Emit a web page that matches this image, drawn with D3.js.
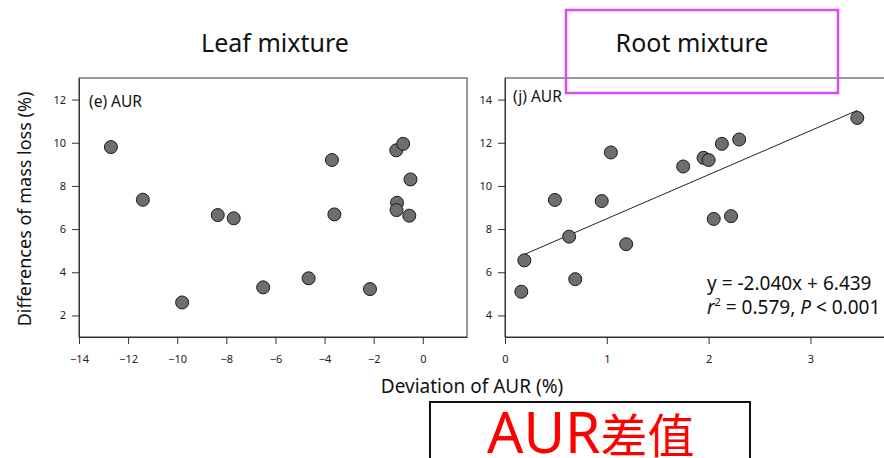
<!DOCTYPE html>
<html><head><meta charset="utf-8">
<script src="https://cdn.jsdelivr.net/npm/d3@7"></script>
<style>body{margin:0;background:#fff}svg{display:block}</style>
</head><body>
<svg id="c" width="884" height="458"></svg>
<script>
// Leaf mixture (e) AUR
const leafX = [-12.7, -11.4, -9.8, -8.35, -7.7, -6.5, -4.65, -3.7, -3.6, -2.15, -1.08, -0.8, -0.5, -1.05, -1.07, -0.55];
const leafY = [9.8, 7.36, 2.6, 6.65, 6.5, 3.3, 3.72, 9.2, 6.68, 3.22, 9.65, 9.95, 8.3, 7.22, 6.88, 6.62];
// Root mixture (j) AUR
const rootX = [0.16, 0.19, 0.49, 0.63, 0.69, 0.95, 1.04, 1.19, 1.75, 1.95, 2.0, 2.05, 2.22, 2.13, 2.3, 3.46];
const rootY = [5.1, 6.55, 9.35, 7.65, 5.68, 9.3, 11.55, 7.3, 10.9, 11.3, 11.2, 8.47, 8.6, 11.95, 12.15, 13.15];
const fitCoef = [2.040, 6.439];      // slope, intercept
const fitRange = [0.18, 3.46];
const leafXTicks = [-14, -12, -10, -8, -6, -4, -2, 0];
const leafYTicks = [2, 4, 6, 8, 10, 12];
const rootXTicks = [0, 1, 2, 3];
const rootYTicks = [4, 6, 8, 10, 12, 14];

const svg = d3.select("#c");
const FONT = "'Noto Sans', 'Open Sans', sans-serif";
const axisCol = "#333";

function panel(o) {
  const g = svg.append("g");
  const x = d3.scaleLinear().domain(o.xd).range(o.xr);
  const y = d3.scaleLinear().domain(o.yd).range([337, 78]);
  g.append("rect").attr("x", o.xr[0]).attr("y", 78)
    .attr("width", o.xr[1] - o.xr[0]).attr("height", 337 - 78)
    .attr("fill", "none").attr("stroke", axisCol).attr("stroke-width", 1);
  const ax = g.append("g").attr("transform", "translate(0,337)")
    .call(d3.axisBottom(x).tickValues(o.xt).tickSize(7).tickPadding(11).tickSizeOuter(0).tickFormat(d3.format("d")));
  const ay = g.append("g").attr("transform", `translate(${o.xr[0]},0)`)
    .call(d3.axisLeft(y).tickValues(o.yt).tickSize(7).tickPadding(6).tickSizeOuter(0));
  [ax, ay].forEach(a => {
    a.select(".domain").attr("stroke", axisCol);
    a.selectAll(".tick line").attr("stroke", axisCol);
    a.selectAll("text").attr("font-family", FONT).attr("font-size", 11).attr("fill", "#222");
  });
  if (o.fit) {
    g.append("line")
      .attr("x1", x(o.fit.r[0])).attr("y1", y(o.fit.c[0] * o.fit.r[0] + o.fit.c[1]))
      .attr("x2", x(o.fit.r[1])).attr("y2", y(o.fit.c[0] * o.fit.r[1] + o.fit.c[1]))
      .attr("stroke", "#222").attr("stroke-width", 1);
  }
  g.selectAll("circle.pt").data(o.xs.map((v, i) => [v, o.ys[i]])).enter()
    .append("circle").attr("class", "pt")
    .attr("cx", d => x(d[0])).attr("cy", d => y(d[1])).attr("r", 6.5)
    .attr("fill", "#6e6e6e").attr("stroke", "#1a1a1a").attr("stroke-width", 1);
  g.append("text").attr("x", o.xr[0] + o.lab[1]).attr("y", o.lab[2])
    .attr("font-family", FONT).attr("font-size", 15.5).attr("fill", "#111").text(o.lab[0]);
  return { x, y };
}

panel({ xd: [-14, 1.8], xr: [79, 467], yd: [1, 13], xt: leafXTicks, yt: leafYTicks,
  xs: leafX, ys: leafY, lab: ["(e) AUR", 10, 107] });
panel({ xd: [0, 3.85], xr: [505, 897], yd: [3, 15], xt: rootXTicks, yt: rootYTicks,
  xs: rootX, ys: rootY, lab: ["(j) AUR", 8, 102], fit: { c: fitCoef, r: fitRange } });

// equation
svg.append("text").attr("x", 707).attr("y", 290).attr("font-family", FONT)
  .attr("font-size", 19).attr("fill", "#111").text("y = -2.040x + 6.439");
const t2 = svg.append("text").attr("x", 707).attr("y", 314).attr("font-family", FONT)
  .attr("font-size", 19).attr("fill", "#111");
t2.append("tspan").attr("font-style", "italic").text("r");
t2.append("tspan").attr("font-size", 11).attr("dy", -8).text("2");
t2.append("tspan").attr("dy", 8).text(" = 0.579, ");
t2.append("tspan").attr("font-style", "italic").text("P");
t2.append("tspan").text(" < 0.001");

// titles
svg.append("text").attr("x", 275).attr("y", 52).attr("text-anchor", "middle")
  .attr("font-family", FONT).attr("font-size", 25).attr("fill", "#111").text("Leaf mixture");
svg.append("text").attr("x", 692).attr("y", 52).attr("text-anchor", "middle")
  .attr("font-family", FONT).attr("font-size", 25).attr("fill", "#111").text("Root mixture");
svg.append("rect").attr("x", 566).attr("y", 10).attr("width", 272).attr("height", 83)
  .attr("fill", "none").attr("stroke", "#d94cf0").attr("stroke-width", 2.5);

// axis labels
svg.append("text").attr("x", 472).attr("y", 393).attr("text-anchor", "middle")
  .attr("font-family", FONT).attr("font-size", 19).attr("fill", "#111").text("Deviation of AUR (%)");
svg.append("text").attr("transform", "translate(31,209) rotate(-90)").attr("text-anchor", "middle")
  .attr("font-family", FONT).attr("font-size", 18).attr("fill", "#111").text("Differences of mass loss (%)");

// bottom annotation
svg.append("rect").attr("x", 430).attr("y", 402).attr("width", 320).attr("height", 70)
  .attr("fill", "#fff").attr("stroke", "#111").attr("stroke-width", 2);
const t3 = svg.append("text").attr("x", 487).attr("y", 453)
  .attr("font-family", "'Noto Sans', 'Noto Sans CJK SC', sans-serif").attr("fill", "#ff0000");
t3.append("tspan").attr("font-size", 57).text("AUR");
t3.append("tspan").attr("font-size", 47).attr("font-family", "'Noto Sans CJK SC', sans-serif").text("差值");
</script>
</body></html>
